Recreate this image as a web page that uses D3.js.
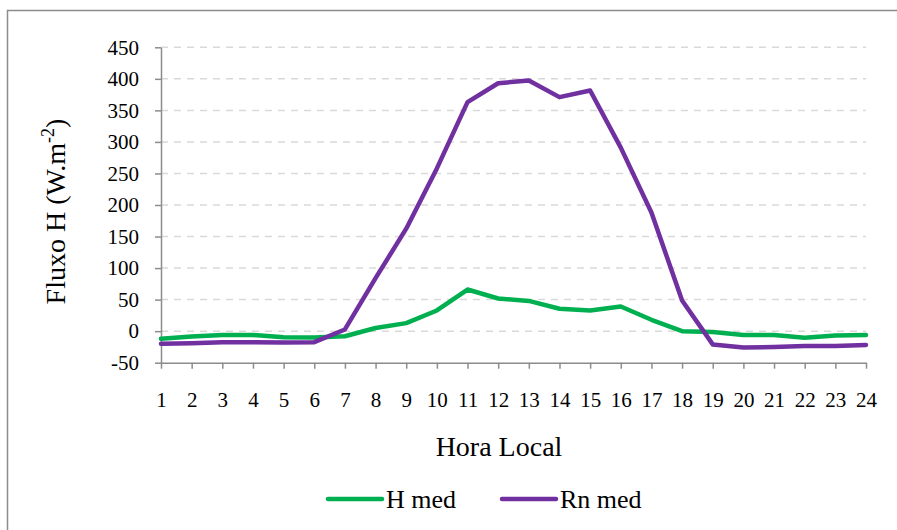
<!DOCTYPE html>
<html>
<head>
<meta charset="utf-8">
<script src="https://cdn.jsdelivr.net/npm/d3@7"></script>
<style>
  html, body { margin: 0; padding: 0; background: #fff; }
  svg, svg text { font-family: "Liberation Serif", "Times New Roman", serif !important; }
</style>
</head>
<body>
<svg id="chart" width="897" height="530"></svg>
<script>
const hours = [1,2,3,4,5,6,7,8,9,10,11,12,13,14,15,16,17,18,19,20,21,22,23,24];
const hMed  = [-12, -8.5, -6, -6, -9.5, -10, -8, 5, 12.7, 32.8, 66, 51.8, 48, 35.5, 32.8, 39, 18, 0, -1.5, -6, -6, -10.5, -7, -6];
const rnMed = [-20, -19, -17.5, -17.5, -18, -17.4, 2.7, 84, 162.5, 258, 363, 393, 397.5, 371, 381.6, 291, 188, 48.7, -21, -26, -25, -23.5, -23.5, -22];
const yTicks = [-50, 0, 50, 100, 150, 200, 250, 300, 350, 400, 450];
const seriesNames = ["H med", "Rn med"];
const seriesColors = ["#00b050", "#7030a0"];
const FONT = '"Liberation Serif", "Times New Roman", serif';

const svg = d3.select("#chart");

// outer frame
svg.append("rect").attr("x", 7.5).attr("y", 10.5).attr("width", 900).attr("height", 530)
  .attr("fill", "none").attr("stroke", "#8c8c8c").attr("stroke-width", 1.5);

const x = d3.scalePoint().domain(hours).range([161, 866]);
const y = d3.scaleLinear().domain([-50, 450]).range([362.7, 47.3]);

// gridlines
svg.append("g").selectAll("line").data(yTicks.filter(d => d > -50)).join("line")
  .attr("x1", 161).attr("x2", 866)
  .attr("y1", d => y(d)).attr("y2", d => y(d))
  .attr("stroke", "#d9d9d9").attr("stroke-width", 1.5).attr("stroke-dasharray", "7,6");

// y axis
const yAxis = svg.append("g").attr("transform", "translate(161,0)")
  .call(d3.axisLeft(y).tickValues(yTicks).tickFormat(d => String(d))
    .tickSize(6).tickPadding(16).tickSizeOuter(0));
yAxis.attr("font-family", null).style("font-family", FONT);
yAxis.select(".domain").attr("stroke", "#8c8c8c").attr("stroke-width", 1.5);
yAxis.selectAll(".tick line").attr("stroke", "#8c8c8c").attr("stroke-width", 1.5);
yAxis.selectAll(".tick text").attr("fill", "#000").attr("font-size", 21).style("font-family", FONT);

// x axis
const xAxis = svg.append("g").attr("transform", `translate(0,${y(-50)})`)
  .call(d3.axisBottom(x).tickFormat(d => String(d)).tickSize(6).tickSizeOuter(0));
xAxis.attr("font-family", null).style("font-family", FONT);
xAxis.select(".domain").attr("stroke", "#8c8c8c").attr("stroke-width", 1.5);
xAxis.selectAll(".tick line").attr("stroke", "#8c8c8c").attr("stroke-width", 1.5);
xAxis.selectAll(".tick text").attr("fill", "#000").attr("font-size", 21).style("font-family", FONT)
  .attr("y", 44).attr("dy", 0);

// lines
const line = d3.line().x((d, i) => x(hours[i])).y(d => y(d));
[hMed, rnMed].forEach((s, k) => {
  svg.append("path").datum(s).attr("d", line)
    .attr("fill", "none").attr("stroke", seriesColors[k]).attr("stroke-width", 4.5)
    .attr("stroke-linejoin", "round").attr("stroke-linecap", "round");
});

// y axis title
const yt = svg.append("text").attr("transform", "translate(65,211.5) rotate(-90)")
  .attr("text-anchor", "middle").attr("font-size", 28).attr("fill", "#000").style("font-family", FONT);
yt.append("tspan").text("Fluxo H (W.m");
yt.append("tspan").text("-2").attr("font-size", 18).attr("dy", -11);
yt.append("tspan").text(")").attr("dy", 11);

// x axis title
svg.append("text").attr("x", 499).attr("y", 456).attr("text-anchor", "middle")
  .attr("font-size", 28).attr("fill", "#000").style("font-family", FONT).text("Hora Local");

// legend
const legX = [328, 502];
seriesNames.forEach((n, k) => {
  svg.append("line").attr("x1", legX[k]).attr("x2", legX[k] + 54).attr("y1", 499).attr("y2", 499)
    .attr("stroke", seriesColors[k]).attr("stroke-width", 4.5).attr("stroke-linecap", "round");
  svg.append("text").attr("x", legX[k] + 58).attr("y", 508).attr("font-size", 26)
    .attr("fill", "#000").style("font-family", FONT).text(n);
});
</script>
</body>
</html>
